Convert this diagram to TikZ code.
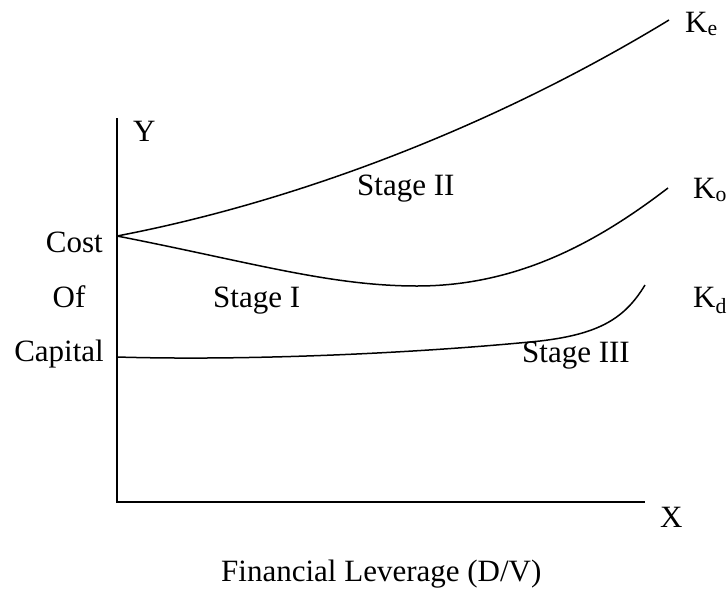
\documentclass[tikz,border=0pt]{standalone}
\usepackage{fontspec}
\setmainfont{Liberation Serif}
\usetikzlibrary{positioning}
\tikzset{
	lbl/.style={inner sep=0pt, font=\fontsize{31}{36}\selectfont},
	curve/.style={line width=1.5pt},
}
\begin{document}
\begin{tikzpicture}[x=1pt, y=-1pt]
	\useasboundingbox (0,0) rectangle (728,592);
	% axes
	\coordinate (ytop) at (117,118);
	\coordinate (orig) at (117,502);
	\coordinate (xend) at (645,502);
	\draw[curve, line join=miter] (ytop) -- (orig) -- (xend);
	\node[lbl, anchor=base west] at (133,141) (ylab) {Y};
	\node[lbl, anchor=base west] at (660,527) (xlab) {X};
	\node[lbl, anchor=base west] at (221,581) (flev) {Financial Leverage (D/V)};
	\node[lbl, anchor=base east] at (103,252) (cost) {Cost};
	\node[lbl, anchor=base] at (69,307) (of) {Of};
	\node[lbl, anchor=base east] at (104,361) (capital) {Capital};
	% curves
	\coordinate (kstart) at (117,236);
	\coordinate (keend) at (669,20);
	\coordinate (komin) at (417,286);
	\coordinate (koend) at (668,188);
	\coordinate (kdstart) at (117,357);
	\coordinate (kdmid) at (540,341);
	\coordinate (kdend) at (645,285);
	\draw[curve] (kstart) .. controls (280,205) and (480,135) .. (keend);
	\draw[curve] (kstart) .. controls (250,262) and (330,286) .. (komin)
		.. controls (520,286) and (600,240) .. (koend);
	\draw[curve] (kdstart) .. controls (250,361) and (420,353) .. (kdmid)
		.. controls (600,334) and (625,318) .. (kdend);
	\node[lbl, anchor=base west] at (685,32) (ke) {K\textsubscript{e}};
	\node[lbl, anchor=base west] at (693,198) (ko) {K\textsubscript{o}};
	\node[lbl, anchor=base west] at (693,307) (kd) {K\textsubscript{d}};
	% stages
	\node[lbl, anchor=base west] at (357,195) (s2) {Stage II};
	\node[lbl, anchor=base west] at (213,307) (s1) {Stage I};
	\node[lbl, anchor=base west] at (522,362) (s3) {Stage III};
\end{tikzpicture}
\end{document}
